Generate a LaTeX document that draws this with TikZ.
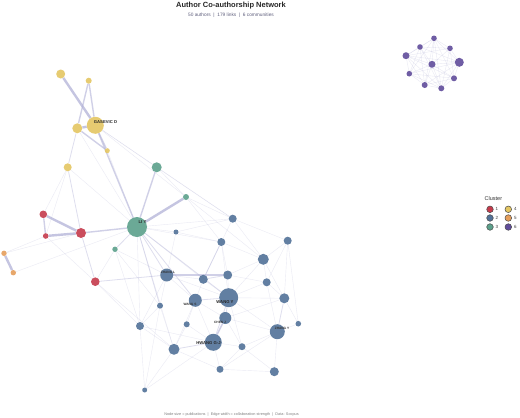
\documentclass[tikz,border=0pt]{standalone}
\usepackage{fontspec}
\setmainfont{Liberation Sans}
\pgfdeclarelayer{bg}
\pgfsetlayers{bg,main}
\definecolor{c1}{RGB}{197,58,76}
\definecolor{c2}{RGB}{82,114,152}
\definecolor{c3}{RGB}{91,160,139}
\definecolor{c4}{RGB}{228,198,98}
\definecolor{c5}{RGB}{229,158,92}
\definecolor{c6}{RGB}{96,76,155}
\definecolor{ec}{RGB}{178,178,215}
\definecolor{subc}{RGB}{95,95,125}
\tikzset{
  nd/.style={circle, inner sep=0pt, minimum size=#1, fill opacity=0.9},
  k1/.style={fill=c1}, k2/.style={fill=c2}, k3/.style={fill=c3},
  k4/.style={fill=c4}, k5/.style={fill=c5}, k6/.style={fill=c6},
  ea/.style={draw=ec, line width=0.4pt, opacity=0.27},
  eb/.style={draw=ec, line width=0.8pt, opacity=0.42},
  ec2/.style={draw=ec, line width=1.4pt, opacity=0.6},
  ed/.style={draw=ec, line width=2.4pt, opacity=0.75},
  bigl/.style={font=\fontsize{4.2}{5}\selectfont\bfseries, text=black!85, inner sep=0pt},
  midl/.style={font=\fontsize{3.2}{4}\selectfont\bfseries, text=black!80, inner sep=0pt},
  legdot/.style={circle, inner sep=0pt, minimum size=6.6pt, draw=black!70, line width=0.5pt},
  legt/.style={font=\fontsize{4.5}{5}\selectfont, text=black!75, inner sep=0pt, anchor=west}
}
\begin{document}
\begin{tikzpicture}[x=1pt,y=-1pt]
\useasboundingbox (0,0) rectangle (520,418);
% titles
\node[font=\fontsize{7.5}{9}\selectfont\bfseries, text=black!85] (title) at (231,5.5) {Author Co-authorship Network};
\node[font=\fontsize{4.8}{5}\selectfont, text=subc] (sub) at (231,15) {50 authors \ | \ 179 links \ | \ 6 communities};
\node[font=\fontsize{3.8}{4}\selectfont, text=black!50] (cap) at (231.5,414.5) {Node size = publications \ | \ Edge width = collaboration strength \ | \ Data: Scopus};
% yellow
\node[nd=9pt,k4] (y1) at (60.7,74) {};
\node[nd=6pt,k4] (y2) at (88.7,80.7) {};
\node[nd=17pt,k4] (y3) at (95.3,125.3) {};
\node[nd=10pt,k4] (y4) at (77.3,128.3) {};
\node[nd=5pt,k4] (y5) at (107.3,150.7) {};
\node[nd=8pt,k4] (y6) at (67.7,167.3) {};
% green
\node[nd=10pt,k3] (g1) at (156.7,167.3) {};
\node[nd=20pt,k3] (g2) at (137,227) {};
\node[nd=6pt,k3] (g3) at (186,197) {};
\node[nd=5.4pt,k3] (g4) at (115,249.3) {};
% red
\node[nd=7.6pt,k1] (r1) at (43.3,214.3) {};
\node[nd=5.6pt,k1] (r2) at (45.7,236) {};
\node[nd=10pt,k1] (r3) at (81,233) {};
\node[nd=8.6pt,k1] (r4) at (95.3,281.7) {};
% orange
\node[nd=5.4pt,k5] (o1) at (4,253.3) {};
\node[nd=5.4pt,k5] (o2) at (13.3,272.7) {};
% blue
\node[nd=8pt,k2] (b1) at (232.7,218.7) {};
\node[nd=8pt,k2] (b2) at (221.3,242) {};
\node[nd=8pt,k2] (b3) at (287.7,240.7) {};
\node[nd=5pt,k2] (b4) at (176,232) {};
\node[nd=11pt,k2] (b5) at (263.3,259.3) {};
\node[nd=13pt,k2] (b6) at (166.7,275) {};
\node[nd=9pt,k2] (b7) at (203.3,279.3) {};
\node[nd=9pt,k2] (b8) at (227.7,275) {};
\node[nd=8pt,k2] (b9) at (266.7,282.3) {};
\node[nd=10pt,k2] (b10) at (284.3,298.3) {};
\node[nd=6pt,k2] (b11) at (160,305.7) {};
\node[nd=13pt,k2] (b12) at (195.3,300.3) {};
\node[nd=19pt,k2] (b13) at (228.7,297.7) {};
\node[nd=12pt,k2] (b14) at (225.3,318) {};
\node[nd=6pt,k2] (b15) at (186.7,324.3) {};
\node[nd=8pt,k2] (b16) at (140,326) {};
\node[nd=5.6pt,k2] (b17) at (298.3,323.7) {};
\node[nd=15pt,k2] (b18) at (277.3,331.7) {};
\node[nd=17pt,k2] (b19) at (213.3,342.3) {};
\node[nd=7pt,k2] (b20) at (242,346.7) {};
\node[nd=11pt,k2] (b21) at (174,349.3) {};
\node[nd=7pt,k2] (b22) at (220,369.3) {};
\node[nd=9pt,k2] (b23) at (274.3,371.7) {};
\node[nd=5pt,k2] (b24) at (144.7,390) {};
% purple
\node[nd=5.6pt,k6] (p1) at (434,38.3) {};
\node[nd=5.6pt,k6] (p2) at (420,47) {};
\node[nd=5.6pt,k6] (p3) at (450,48.3) {};
\node[nd=7pt,k6] (p4) at (406,55.7) {};
\node[nd=9pt,k6] (p5) at (459.3,62.3) {};
\node[nd=7pt,k6] (p6) at (432,64.3) {};
\node[nd=5.6pt,k6] (p7) at (409.3,73.7) {};
\node[nd=6pt,k6] (p8) at (454,78.3) {};
\node[nd=6pt,k6] (p9) at (424.7,85) {};
\node[nd=6pt,k6] (p10) at (441.3,88.3) {};
% labels
\node[bigl] (ly3) at (105.5,122) {GASEVIC D};
\node[bigl] (lg2) at (142.5,222.5) {LI Y};
\node[midl] (lb6) at (168,272) {ZHANG L};
\node[midl] (lb12) at (190,304) {WANG S};
\node[bigl] (lb13) at (225,302.5) {WANG Y};
\node[midl] (lb14) at (220,322) {CHEN J};
\node[bigl] (lb19) at (208.5,342.7) {HWANG G-J};
\node[midl] (lb18) at (282,328) {ZHANG Y};
% legend
\node[font=\fontsize{5.5}{6}\selectfont, text=black!80, anchor=west, inner sep=0pt] (legt) at (484.5,199) {Cluster};
\node[legdot,fill=c1] (l1) at (490,209.3) {};
\node[legdot,fill=c2] (l2) at (490,218) {};
\node[legdot,fill=c3] (l3) at (490,227) {};
\node[legdot,fill=c4] (l4) at (508.3,209.3) {};
\node[legdot,fill=c5] (l5) at (508.3,218) {};
\node[legdot,fill=c6] (l6) at (508.3,227) {};
\node[legt] (n1) at (495.5,209.3) {1};
\node[legt] (n2) at (495.5,218) {2};
\node[legt] (n3) at (495.5,227) {3};
\node[legt] (n4) at (513.8,209.3) {4};
\node[legt] (n5) at (513.8,218) {5};
\node[legt] (n6) at (513.8,227) {6};
% edges
\begin{pgfonlayer}{bg}
\fill[white] (0,0) rectangle (520,418);
\foreach \a/\b in {y1/y3,y4/y3,o1/o2,r1/r3,r2/r3,g2/g3}
  \draw[ed] (\a) -- (\b);
\foreach \a/\b in {y2/y3,y2/y4,y3/y5,y4/y5,y3/g2,r3/g2,g1/g2,r1/r2,b6/b8,b14/b19}
  \draw[ec2] (\a) -- (\b);
\foreach \a/\b in {y4/y6,y6/r3,g2/b11,g2/b6,g2/b12,g2/b13,b12/b13,b13/b14,b13/b19,b18/b10,b7/b8,b2/b7,r4/b6,g2/g4,r3/r4,b19/b21}
  \draw[eb] (\a) -- (\b);
\foreach \a/\b in {y6/r1,y6/g2,y3/g1,y3/g3,y5/g2,y3/b1,y4/g2,y6/r2,r2/r4,o1/r3,o2/g2,o1/r2,
  g1/g3,g1/b1,g3/b1,g3/b2,g3/b5,g2/b4,g2/b2,g2/b7,g2/b16,g2/b1,g2/b21,g4/r4,g4/b6,g4/b11,
  b1/b2,b1/b5,b1/b3,b2/b5,b2/b8,b2/b13,b3/b5,b3/b10,b3/b9,b5/b8,b5/b9,b5/b10,b5/b13,
  b6/b12,b6/b16,b6/b7,b6/b11,b6/b13,b7/b13,b7/b12,b8/b13,b9/b13,b9/b10,b9/b18,
  b10/b17,b10/b13,b11/b16,b11/b21,b12/b19,b12/b15,b13/b18,b13/b20,b14/b20,b14/b18,
  b15/b19,b15/b21,b16/b21,b16/b24,b17/b18,b18/b20,b18/b23,b19/b20,b19/b22,b20/b22,
  b21/b22,b21/b24,b22/b23,b22/b18,b23/b20,b4/b2,b4/b6,b4/b1,b12/b14,b8/b9,b16/b19,
  r4/b21,r4/b16,g4/b16,b11/b24,b14/b10,b7/b2,b12/b21,b3/b17,b19/b24,
  p1/p2,p1/p3,p1/p4,p1/p5,p1/p6,p1/p7,p1/p8,p1/p9,p1/p10,
  p2/p3,p2/p4,p2/p5,p2/p6,p2/p7,p2/p9,p2/p10,
  p3/p4,p3/p5,p3/p6,p3/p8,p3/p10,
  p4/p5,p4/p6,p4/p7,p4/p8,p4/p9,p4/p10,
  p5/p6,p5/p7,p5/p8,p5/p9,p5/p10,
  p6/p7,p6/p8,p6/p9,p6/p10,
  p7/p8,p7/p9,p7/p10,p8/p9,p8/p10,p9/p10}
  \draw[ea] (\a) -- (\b);
\end{pgfonlayer}
\end{tikzpicture}
\end{document}
